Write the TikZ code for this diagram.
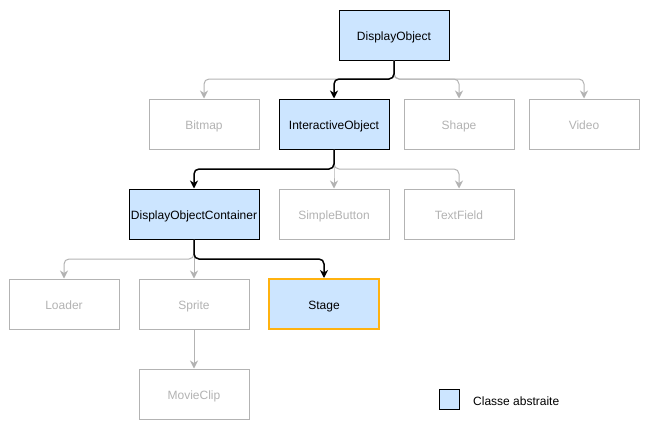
\documentclass[tikz,border=0pt]{standalone}
\usepackage{fontspec}
\setmainfont{Liberation Sans}
\usetikzlibrary{arrows.meta}
\definecolor{absfill}{HTML}{CCE5FF}
\definecolor{lightline}{HTML}{B3B3B3}
\definecolor{lighttext}{HTML}{B3B3B3}
\definecolor{stageline}{HTML}{FFB20F}
\tikzset{
  box/.style={rectangle, minimum width=110pt, minimum height=50pt, inner sep=0pt, line width=1pt, text height=10pt, text depth=0pt, font=\fontsize{12}{14}\selectfont},
  absbox/.style={box, draw=black, fill=absfill, text=black},
  plainbox/.style={box, draw=lightline, fill=white, text=lighttext},
  greyedge/.style={draw=lightline, line width=1pt, rounded corners=5pt, -{Stealth[length=8pt,width=8pt,inset=2.5pt]}},
  darkedge/.style={draw=black, line width=1.5pt, rounded corners=5pt, -{Stealth[length=8pt,width=8pt,inset=2.5pt]}},
}
\begin{document}
\begin{tikzpicture}[x=1pt,y=-1pt]
\useasboundingbox (0,0) rectangle (654,434);
% nodes
\node[absbox] (do) at (394,35) {DisplayObject};
\node[plainbox] (bm) at (204,124) {Bitmap};
\node[absbox] (io) at (334,124) {InteractiveObject};
\node[plainbox] (sh) at (459,124) {Shape};
\node[plainbox] (vi) at (584,124) {Video};
\node[absbox, minimum width=130pt] (doc) at (194,214) {DisplayObjectContainer};
\node[plainbox] (sb) at (334,214) {SimpleButton};
\node[plainbox] (tf) at (459,214) {TextField};
\node[plainbox] (lo) at (64,304) {Loader};
\node[plainbox] (sp) at (194,304) {Sprite};
\node[absbox, draw=stageline, line width=2pt] (st) at (324,304) {Stage};
\node[plainbox] (mc) at (194,394) {MovieClip};
\node[rectangle, draw=black, fill=absfill, line width=1pt, minimum width=20pt, minimum height=20pt, inner sep=0pt] (lg) at (449,399) {};
\node[anchor=base west, inner sep=0pt, font=\fontsize{12}{14}\selectfont] (lgt) at (473,405) {Classe abstraite};
% grey edges
\draw[greyedge] (do.south) -- (do.south |- 0,79) -| (bm.north);
\draw[greyedge] (do.south) -- (do.south |- 0,79) -| (sh.north);
\draw[greyedge] (do.south) -- (do.south |- 0,79) -| (vi.north);
\draw[greyedge] (io.south) -- (io.south |- 0,169) -| (sb.north);
\draw[greyedge] (io.south) -- (io.south |- 0,169) -| (tf.north);
\draw[greyedge] (doc.south) -- (doc.south |- 0,259) -| (lo.north);
\draw[greyedge] (doc.south) -- (sp.north);
\draw[greyedge] (sp.south) -- (mc.north);
% dark edges
\draw[darkedge] (do.south) -- (do.south |- 0,79) -| (io.north);
\draw[darkedge] (io.south) -- (io.south |- 0,169) -| (doc.north);
\draw[darkedge] (doc.south) -- (doc.south |- 0,259) -| (st.north);
\end{tikzpicture}
\end{document}
